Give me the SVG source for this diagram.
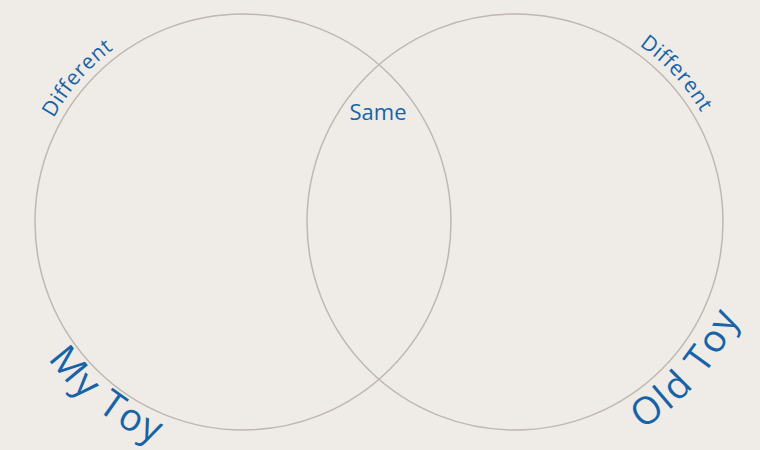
<svg xmlns="http://www.w3.org/2000/svg" xmlns:xlink="http://www.w3.org/1999/xlink" width="760" height="450" viewBox="0 0 760 450">
  <style>
    .ring { fill: none; stroke: #BFB7B0; stroke-width: 1.5; }
    .lbl { fill: #1763A6; font-family: "Open Sans", "Liberation Sans", sans-serif; font-weight: 400; }
    .small { font-size: 21px; letter-spacing: 0.6px; }
    .big { font-size: 38px; letter-spacing: 2.5px; }
  </style>
  <defs>
    <path id="arcDiffL" d="M 30.97,180.79 A 216 216 0 0 1 172.68,17.77"/>
    <path id="arcDiffR" d="M 579.59,15.88 A 216 216 0 0 1 725.80,174.88"/>
    <path id="arcMy" d="M 22.33,311.15 A 238 238 0 0 0 209.88,457.69"/>
    <path id="arcOld" d="M 596.12,451.06 A 243 243 0 0 0 753.93,266.28"/>
  </defs>
  <rect width="760" height="450" fill="#EFECE7"/>
  <g id="left-set">
    <circle class="ring" cx="243" cy="222" r="208"/>
    <text class="lbl small" text-anchor="middle"><textPath xlink:href="#arcDiffL" href="#arcDiffL" startOffset="50%">Different</textPath></text>
    <text class="lbl big" text-anchor="middle"><textPath xlink:href="#arcMy" href="#arcMy" startOffset="50%">My Toy</textPath></text>
  </g>
  <g id="right-set">
    <circle class="ring" cx="515" cy="222" r="208"/>
    <text class="lbl small" text-anchor="middle"><textPath xlink:href="#arcDiffR" href="#arcDiffR" startOffset="50%">Different</textPath></text>
    <text class="lbl big" text-anchor="middle"><textPath xlink:href="#arcOld" href="#arcOld" startOffset="50%">Old Toy</textPath></text>
  </g>
  <g id="overlap">
    <text class="lbl" x="378" y="120" font-size="22" text-anchor="middle">Same</text>
  </g>
</svg>
